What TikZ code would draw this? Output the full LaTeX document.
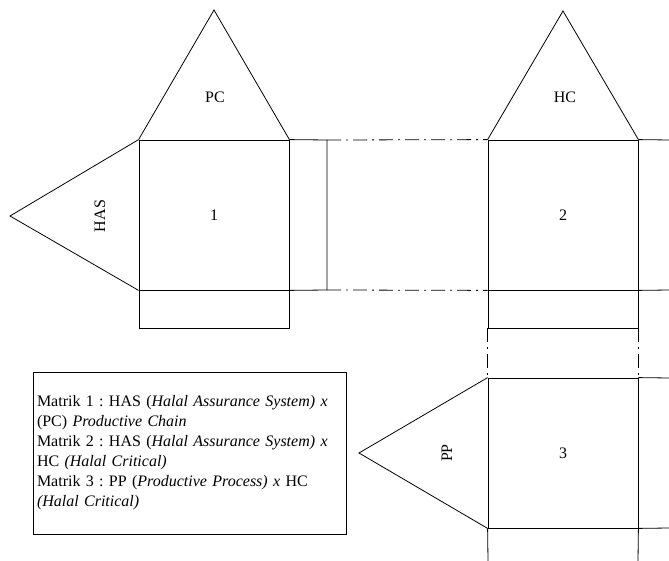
\documentclass[tikz,border=0pt]{standalone}
\usepackage{fontspec}
\setmainfont{Liberation Serif}
\usetikzlibrary{positioning}
\frenchspacing
\tikzset{face/.style={draw,minimum width=150pt,minimum height=150pt,inner sep=0pt},
         flap/.style={draw,minimum width=150pt,minimum height=38pt,inner sep=0pt},
         lbl/.style={font=\fontsize{16}{20}\selectfont},
         dashdot/.style={dash pattern=on 14pt off 5pt on 2pt off 5pt},
        }

\begin{document}
\begin{tikzpicture}[x=1pt,y=-1pt,line width=0.8pt,every node/.style={lbl}]
        \useasboundingbox (0,0) rectangle (669,561);
        \node[face](m1)at(214,215){1};
        \node[face](m2)at(563,215){2};
        \node[face](m3)at(563,453){3};
        \node[flap](f1)at(214,309){};
        \node[flap](f2)at(563,309){};
        \coordinate(pcTip)at(214,10);
        \coordinate(hcTip)at(563,11);
        \coordinate(hasTip)at(10,216);
        \coordinate(ppTip)at(359,453);
        \coordinate(s1)at(327,140);
        \coordinate(s2)at(327,290);
        \draw(m1.north west)--(pcTip)--(m1.north east);
        \draw(m2.north west)--(hcTip)--(m2.north east);
        \draw(m1.north west)--(hasTip)--(m1.south west);
        \draw(m3.north west)--(ppTip)--(m3.south west);
        \node(pc)at(215,97){PC};
        \node(hc)at(565,97){HC};
        \node[rotate=90](has)at(100,216){HAS};
        \node[rotate=90](pp)at(447,453){PP};
        \draw(m1.north east)--(s1)--(s2)--(m1.south east);
        \draw[dashdot](s1)--(m2.north west);
        \draw[dashdot](s2)--(m2.south west);
        \draw[dashdot](f2.south west)--(m3.north west);
        \draw[dashdot](f2.south east)--(m3.north east);
        \draw(m2.north east)--(669,140);
        \draw(m2.south east)--(669,290);
        \draw(m3.north east)--(669,378);
        \draw(m3.south east)--(669,528);
        \draw(m3.south west)--(488,561);
        \draw(m3.south east)--(638,561);
        \node[draw,minimum width=313pt,minimum height=162pt,text width=305pt,inner sep=4pt,align=left](key)at(189.5,453){%
            Matrik 1 : HAS (\textit{Halal Assurance System) x}\\
            (PC) \textit{Productive Chain}\\
            Matrik 2 : HAS (\textit{Halal Assurance System) x}\\
            HC \textit{(Halal Critical)}\\
            Matrik 3 : PP (\textit{Productive Process) x} HC\\
            \textit{(Halal Critical)}};
    \end{tikzpicture}
\end{document}
